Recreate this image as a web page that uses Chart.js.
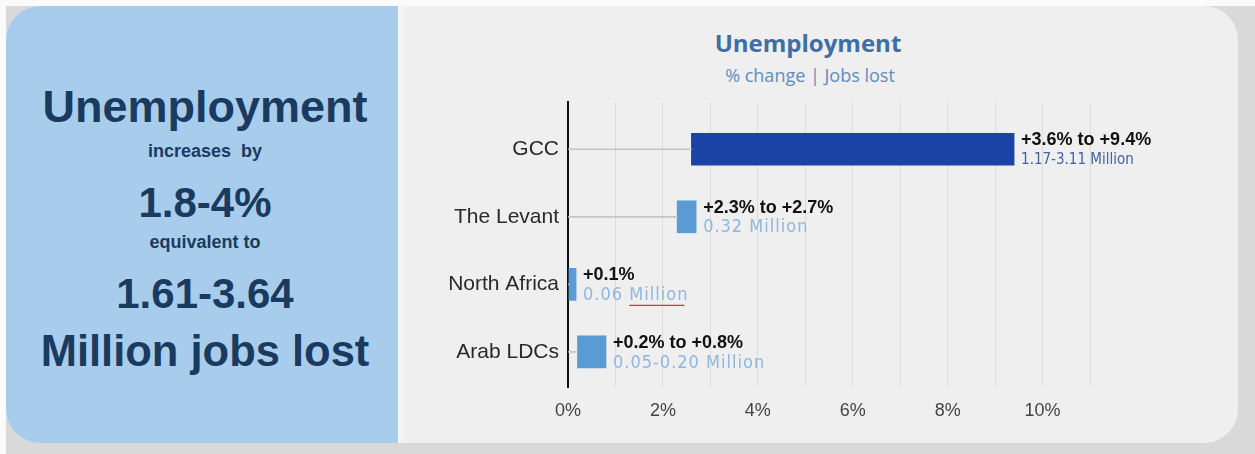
<!DOCTYPE html>
<html>
<head>
<meta charset="utf-8">
<script src="https://cdn.jsdelivr.net/npm/chart.js@4.4.1/dist/chart.umd.min.js"></script>
<style>
  html, body { margin:0; padding:0; }
  body { width:1255px; height:454px; position:relative; overflow:hidden; background:#fbfbfb; font-family:"Liberation Sans", Arial, sans-serif; }
  #shadow { position:absolute; left:6px; top:6px; right:0; bottom:0; background:#d9d9d9; }
  #card { position:absolute; left:6px; top:6px; width:1232px; height:437px; border-radius:34px; background:#efefef; overflow:hidden; }
  #leftPanel { position:absolute; left:0; top:0; width:392px; height:437px; background:#a8cdec; }
  #sep { position:absolute; left:392px; top:0; width:8px; height:437px; background:linear-gradient(to right,#f7f7f7,#efefef); }
  .lp { position:absolute; left:0; width:410px; text-align:center; color:#1a3b5f; font-weight:bold; white-space:pre; line-height:1; }
  #title { position:absolute; left:608px; width:400px; top:31px; text-align:center; font-family:"Open Sans", sans-serif; font-weight:bold; font-size:24px; color:#3d6ea6; line-height:1; }
  #subtitle { position:absolute; left:610px; width:400px; top:66px; text-align:center; font-family:"Open Sans", sans-serif; font-size:18px; color:#5d8ec3; line-height:1; }
  #chartBox { position:absolute; left:400px; top:0; width:855px; height:454px; }
</style>
</head>
<body>
<div id="shadow"></div>
<div id="card">
  <div id="leftPanel"></div>
  <div id="sep"></div>
</div>
<div class="lp" style="top:84px;font-size:45px;">Unemployment</div>
<div class="lp" style="top:142px;font-size:18px;">increases  by</div>
<div class="lp" style="top:182px;font-size:42px;">1.8-4%</div>
<div class="lp" style="top:233px;font-size:18px;">equivalent to</div>
<div class="lp" style="top:273px;font-size:42px;">1.61-3.64</div>
<div class="lp" style="top:330px;font-size:43.5px;">Million jobs lost</div>
<div id="title">Unemployment</div>
<div id="subtitle">% change | Jobs lost</div>
<div id="chartBox"><canvas id="c"></canvas></div>
<script>
const regions = ['GCC', 'The Levant', 'North Africa', 'Arab LDCs'];
const rangeLow = [2.6, 2.3, 0.02, 0.2];
const rangeHigh = [9.4, 2.7, 0.17, 0.8];
const pctLabels = ['+3.6% to +9.4%', '+2.3% to +2.7%', '+0.1%', '+0.2% to +0.8%'];
const jobsLabels = ['1.17-3.11 Million', '0.32 Million', '0.06 Million', '0.05-0.20 Million'];
const xTickValues = [0, 1, 2, 3, 4, 5, 6, 7, 8, 9, 10, 11];
const xTickLabelled = [0, 2, 4, 6, 8, 10];

const barColors = ['#1b44a6', '#5b9bd5', '#5b9bd5', '#5b9bd5'];
const jobsColors = ['#4262ad', '#8fb7df', '#8fb7df', '#8fb7df'];
const Y_MIN = -0.7, Y_MAX = 3.52;

const valueLabels = {
  id: 'valueLabels',
  afterDatasetsDraw(chart) {
    const ctx = chart.ctx;
    const meta = chart.getDatasetMeta(1);
    meta.data.forEach((el, i) => {
      const x = Math.max(el.x, el.base) + 7;
      const y = el.y;
      ctx.save();
      ctx.textAlign = 'left';
      ctx.textBaseline = 'middle';
      ctx.fillStyle = '#111';
      ctx.font = 'bold 18px "Liberation Sans", Arial, sans-serif';
      ctx.fillText(pctLabels[i], x, y - 9);
      ctx.fillStyle = jobsColors[i];
      if (i === 0) {
        ctx.font = '15px "Liberation Sans Narrow", "DejaVu Sans Condensed", sans-serif';
        ctx.letterSpacing = '0px';
      } else {
        ctx.font = '18px "Liberation Sans Narrow", "DejaVu Sans Condensed", sans-serif';
        ctx.letterSpacing = '1px';
      }
      const txt = jobsLabels[i];
      ctx.fillText(txt, x, y + 11);
      // spell-check style red underline seen under "Million" in the North Africa label
      if (i === 2) {
        const pre = ctx.measureText(txt.slice(0, txt.indexOf('Million'))).width;
        const w = ctx.measureText('Million').width;
        ctx.strokeStyle = '#e0303a';
        ctx.lineWidth = 1.2;
        ctx.beginPath();
        ctx.moveTo(x + pre, y + 21);
        ctx.lineTo(x + pre + w - 4, y + 21);
        ctx.stroke();
      }
      ctx.restore();
    });
  }
};

new Chart(document.getElementById('c'), {
  type: 'bar',
  data: {
    datasets: [
      {
        label: 'leader',
        data: regions.map((r, i) => ({ x: [0, rangeLow[i]], y: i })),
        backgroundColor: '#c4c4c4',
        barThickness: 1,
        grouped: false
      },
      {
        label: 'Unemployment',
        data: regions.map((r, i) => ({ x: [rangeLow[i], rangeHigh[i]], y: i })),
        backgroundColor: barColors,
        barThickness: 32,
        grouped: false
      }
    ]
  },
  options: {
    indexAxis: 'y',
    responsive: true,
    maintainAspectRatio: false,
    animation: false,
    layout: { padding: { left: 0, top: 102, right: 165, bottom: 17 } },
    plugins: { legend: { display: false }, tooltip: { enabled: false }, title: { display: false } },
    scales: {
      x: {
        type: 'linear',
        min: 0,
        max: 11,
        afterBuildTicks: s => { s.ticks = xTickValues.map(v => ({ value: v })); },
        afterFit: s => { s.height = 50; },
        grid: { color: '#dcdcdc', lineWidth: 1, drawTicks: false },
        border: { display: false },
        ticks: {
          autoSkip: false,
          maxRotation: 0,
          padding: 13,
          color: '#444',
          font: { family: '"Liberation Sans", Arial, sans-serif', size: 18 },
          callback: v => xTickLabelled.includes(v) ? v + '%' : ''
        }
      },
      y: {
        type: 'linear',
        reverse: true,
        offset: false,
        min: Y_MIN,
        max: Y_MAX,
        afterBuildTicks: s => { s.ticks = regions.map((r, i) => ({ value: i })); s.min = Y_MIN; s.max = Y_MAX; },
        afterFit: s => { s.width = 168; },
        grid: { display: false, drawTicks: false, offset: false },
        border: { display: true, color: '#111', width: 2 },
        ticks: {
          padding: 9,
          color: '#2a2a2a',
          font: { family: '"Liberation Sans", Arial, sans-serif', size: 21 },
          callback: v => regions[v]
        }
      }
    }
  },
  plugins: [valueLabels]
});
</script>
</body>
</html>
